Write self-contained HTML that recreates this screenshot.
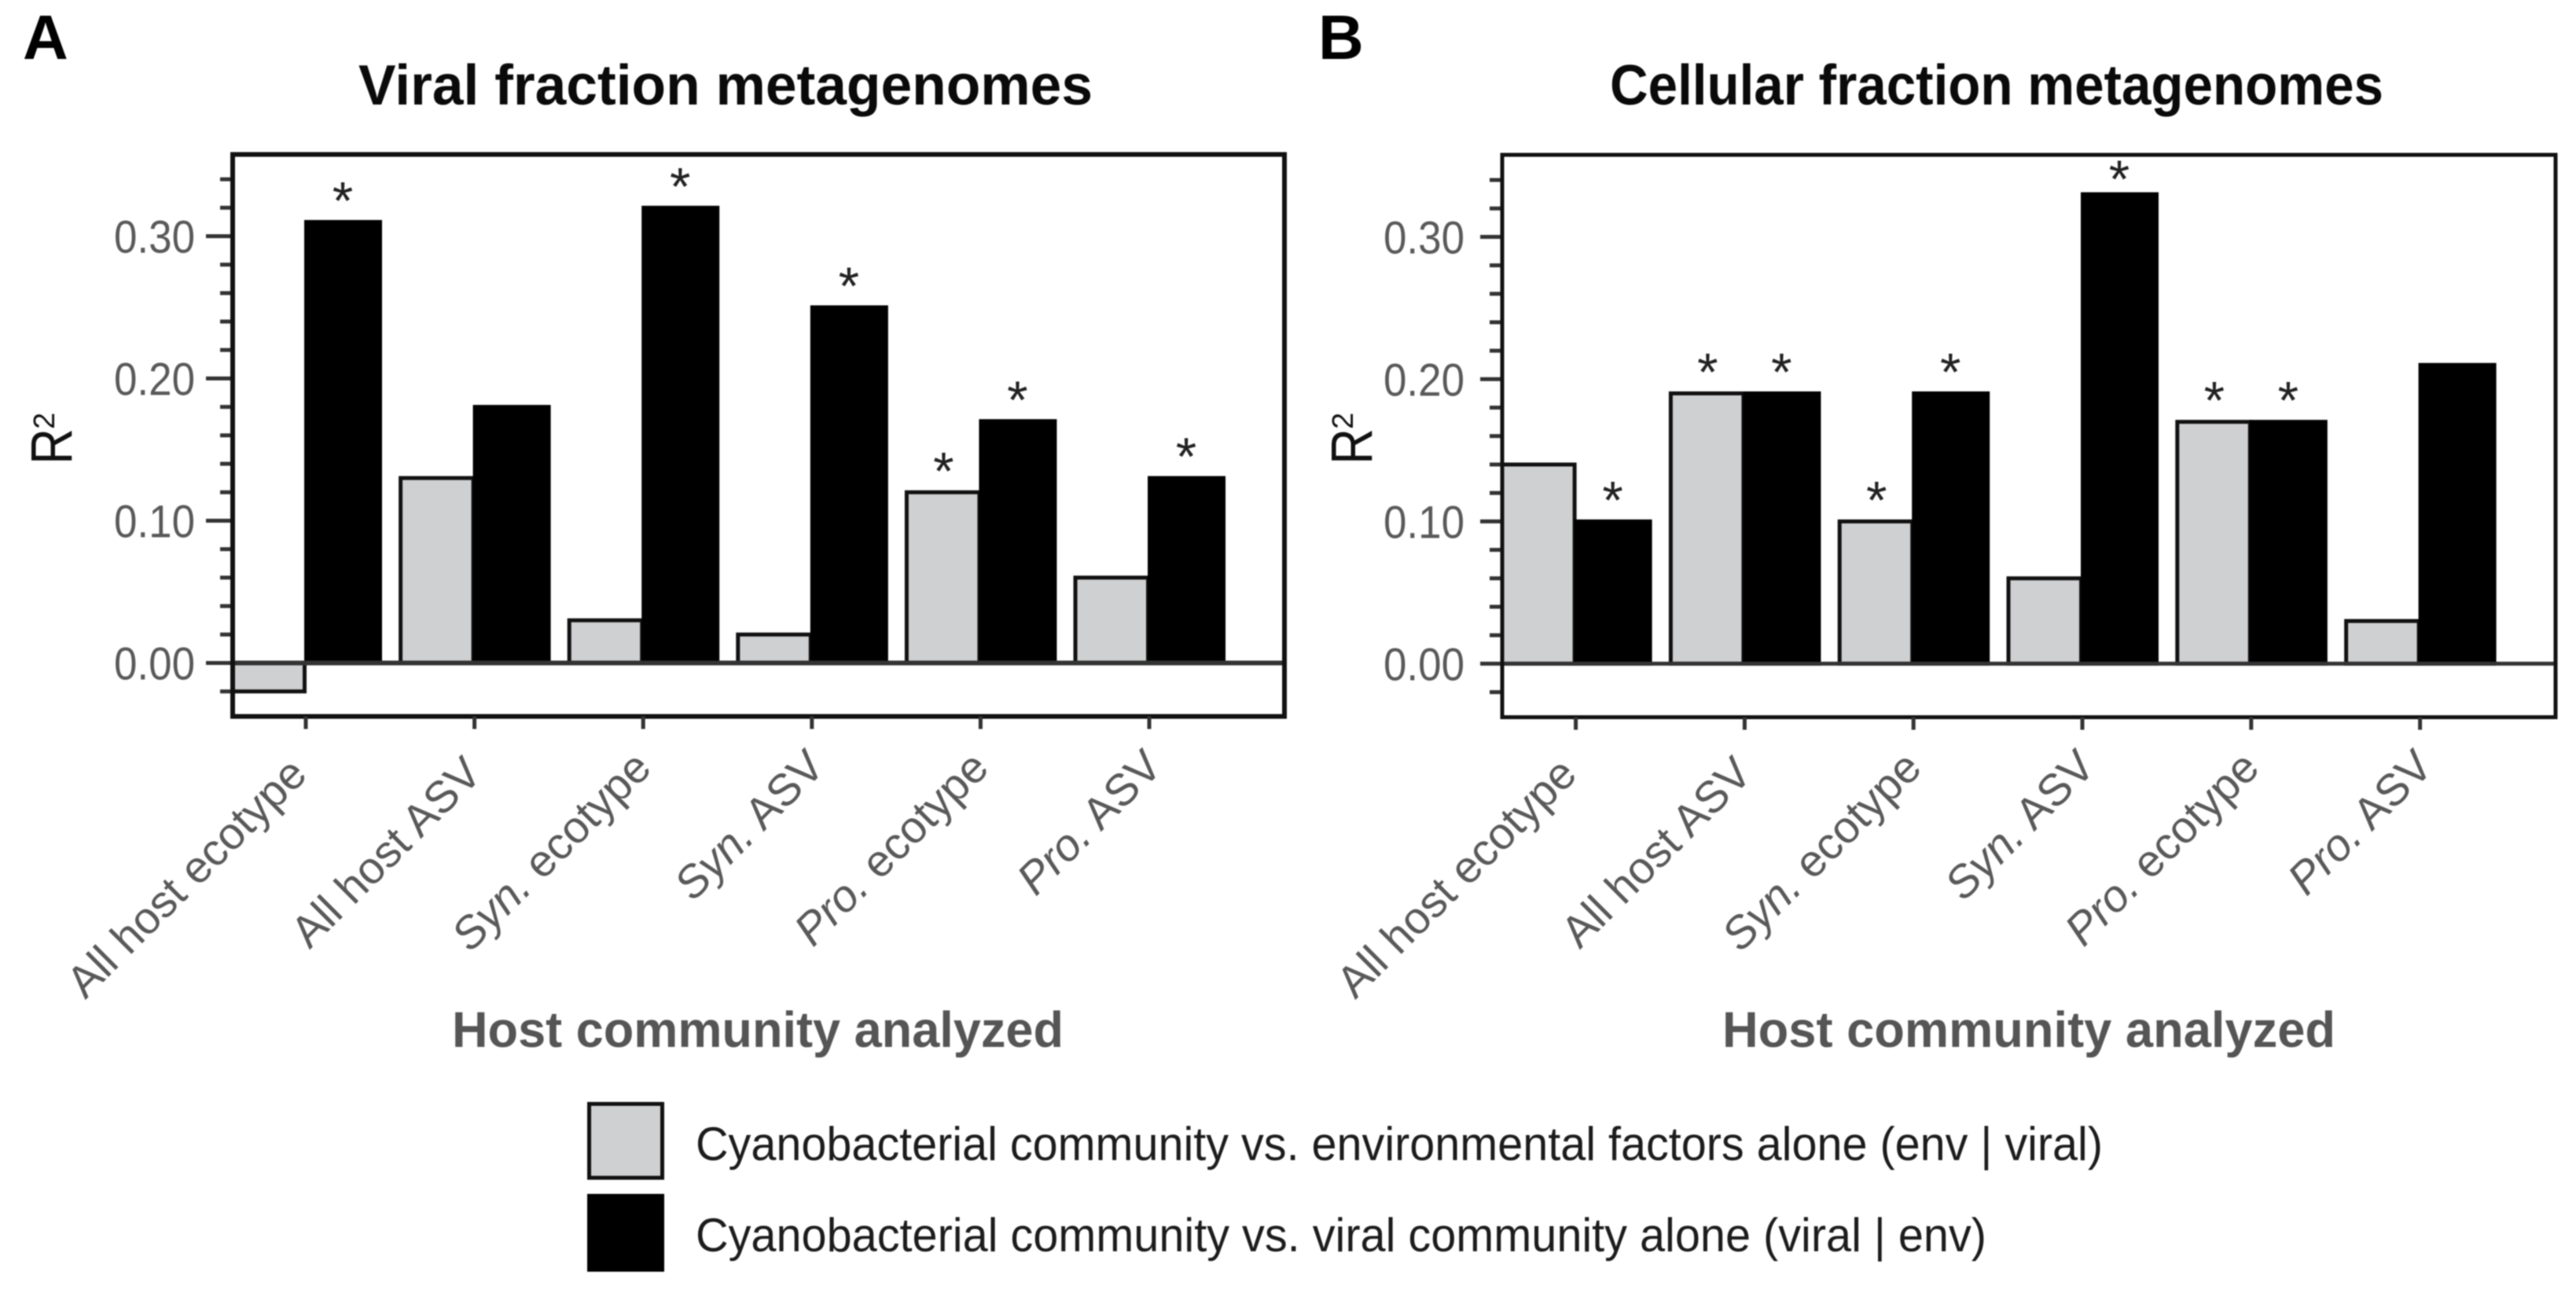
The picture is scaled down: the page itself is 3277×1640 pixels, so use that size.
<!DOCTYPE html>
<html lang="en">
<head>
<meta charset="utf-8">
<title>Viral and cellular fraction metagenomes</title>
<style>
html,body{margin:0;padding:0;background:#fff;}
body{width:3277px;height:1640px;overflow:hidden;}
svg{display:block;filter:blur(0.9px);font-family:"Liberation Sans",sans-serif;}
</style>
</head>
<body>
<svg id="chart" xmlns="http://www.w3.org/2000/svg" width="3277" height="1640" viewBox="0 0 3277 1640">
  <rect x="0" y="0" width="3277" height="1640" fill="#fff"/>
  <text x="29" y="75" font-size="80" font-weight="700" fill="#000">A</text>
  <text x="1677" y="75" font-size="80" font-weight="700" fill="#000">B</text>
  <text x="456" y="133" font-size="72" font-weight="700" fill="#0a0a0a" textLength="934" lengthAdjust="spacingAndGlyphs">Viral fraction metagenomes</text>
  <text x="2048" y="133" font-size="72" font-weight="700" fill="#0a0a0a" textLength="984" lengthAdjust="spacingAndGlyphs">Cellular fraction metagenomes</text>
  <text x="575" y="1332" font-size="64" font-weight="700" fill="#555" textLength="778" lengthAdjust="spacingAndGlyphs">Host community analyzed</text>
  <text x="2191" y="1332" font-size="64" font-weight="700" fill="#555" textLength="780" lengthAdjust="spacingAndGlyphs">Host community analyzed</text>
  <text transform="translate(91,591) rotate(-90)" font-size="74" fill="#111" textLength="46" lengthAdjust="spacingAndGlyphs">R</text>
  <text transform="translate(69,546) rotate(-90)" font-size="38" fill="#111">2</text>
  <text transform="translate(1745,591) rotate(-90)" font-size="74" fill="#111" textLength="46" lengthAdjust="spacingAndGlyphs">R</text>
  <text transform="translate(1721,546) rotate(-90)" font-size="38" fill="#111">2</text>
  <g>
    <rect x="749.5" y="1404.5" width="93" height="94" fill="#cfd0d2" stroke="#111" stroke-width="5"/>
    <text x="885" y="1476" font-size="60" fill="#1c1c1c" textLength="1790" lengthAdjust="spacingAndGlyphs">Cyanobacterial community vs. environmental factors alone (env | viral)</text>
    <rect x="749.5" y="1521.5" width="93" height="94" fill="#000" stroke="#000" stroke-width="5"/>
    <text x="885" y="1592" font-size="60" fill="#1c1c1c" textLength="1642" lengthAdjust="spacingAndGlyphs">Cyanobacterial community vs. viral community alone (viral | env)</text>
  </g>
  <g id="panels"></g>
</svg>
<script>
const categories = ['All host ecotype', 'All host ASV', 'Syn. ecotype', 'Syn. ASV', 'Pro. ecotype', 'Pro. ASV'];
const yTickLabels = ['0.00', '0.10', '0.20', '0.30'];
const yMinorTicks = [-0.02, 0.02, 0.04, 0.06, 0.08, 0.12, 0.14, 0.16, 0.18, 0.22, 0.24, 0.26, 0.28, 0.32, 0.34];

const viralEnv = [-0.02, 0.13, 0.03, 0.02, 0.12, 0.06];
const viralVirus = [0.31, 0.18, 0.32, 0.25, 0.17, 0.13];
const viralEnvSignificant = [false, false, false, false, true, false];
const viralVirusSignificant = [true, false, true, true, true, true];

const cellularEnv = [0.14, 0.19, 0.10, 0.06, 0.17, 0.03];
const cellularVirus = [0.10, 0.19, 0.19, 0.33, 0.17, 0.21];
const cellularEnvSignificant = [false, true, true, false, true, false];
const cellularVirusSignificant = [true, true, true, true, true, false];

const SVG_NS = 'http://www.w3.org/2000/svg';
const PX_PER_UNIT = 1810;
const STAR_MIN_BASELINE = 251;

function make(tag, attrs, parent) {
  const node = document.createElementNS(SVG_NS, tag);
  for (const key in attrs) node.setAttribute(key, attrs[key]);
  parent.appendChild(node);
  return node;
}

function labelNudge(category) {
  const italic = /^(Syn|Pro)\./.test(category);
  const asv = /ASV$/.test(category);
  if (italic) return asv ? { dx: 19, y: 978 } : { dx: 13, y: 980 };
  return asv ? { dx: 12, y: 987 } : { dx: 4, y: 988 };
}

function starBaseline(y) {
  return Math.max(y - 4, STAR_MIN_BASELINE);
}

function drawPanel(p) {
  const root = document.getElementById('panels');
  const g = make('g', {}, root);
  
  

  const yScale = v => p.zero - v * PX_PER_UNIT;
  const xScale = i => p.x0 + i * p.step;

  // environmental (grey) bars
  p.env.forEach((v, i) => {
    const c = xScale(i);
    const top = Math.min(yScale(v), p.zero);
    const h = Math.abs(yScale(v) - p.zero);
    const left = Math.max(c - 94, p.left);
    const bar = make('rect', { x: left, y: top, width: c - 1.5 - left, height: h, fill: '#cfd0d2', stroke: '#111', 'stroke-width': 5 }, g);
    
    
  });

  // viral (black) bars
  p.virus.forEach((v, i) => {
    const c = xScale(i);
    const bar = make('rect', { x: c + 0.5, y: yScale(v), width: 94, height: p.zero - yScale(v), fill: '#000', stroke: '#000', 'stroke-width': 5 }, g);
    
    
  });

  // significance stars
  p.envSig.forEach((sig, i) => {
    if (!sig) return;
    const star = make('text', { x: xScale(i) - 47, y: starBaseline(yScale(p.env[i])), 'font-size': 68, 'text-anchor': 'middle', fill: '#222' }, g);
    star.textContent = '*';
    
    
  });
  p.virusSig.forEach((sig, i) => {
    if (!sig) return;
    const star = make('text', { x: xScale(i) + 47, y: starBaseline(yScale(p.virus[i])), 'font-size': 68, 'text-anchor': 'middle', fill: '#222' }, g);
    star.textContent = '*';
    
    
  });

  // minor y ticks
  yMinorTicks.forEach(v => {
    const tick = make('line', { x1: p.left - 16, x2: p.left, y1: yScale(v), y2: yScale(v), stroke: '#333', 'stroke-width': 5 }, g);
    
    
  });

  // major y ticks and labels
  yTickLabels.forEach(label => {
    const v = parseFloat(label);
    const tick = make('line', { x1: p.left - p.majorLen, x2: p.left, y1: yScale(v), y2: yScale(v), stroke: '#333', 'stroke-width': 5 }, g);
    
    
    const text = make('text', { x: p.labelRight - 103, y: yScale(v) + 21, 'font-size': 58, fill: '#595959', textLength: 103, lengthAdjust: 'spacingAndGlyphs' }, g);
    text.textContent = label;
    
    
  });

  // zero line across the plot
  const zeroLine = make('line', { x1: p.left, x2: p.right, y1: p.zero, y2: p.zero, stroke: '#333', 'stroke-width': p.zeroWidth }, g);
  
  

  // frame
  const frame = make('rect', { x: p.left, y: p.top, width: p.right - p.left, height: p.bottom - p.top, fill: 'none', stroke: '#111', 'stroke-width': p.frameWidth }, g);
  
  

  // x ticks and rotated labels
  categories.forEach((category, i) => {
    const c = xScale(i);
    const tick = make('line', { x1: c, x2: c, y1: p.bottom, y2: p.bottom + 16, stroke: '#333', 'stroke-width': 5 }, g);
    
    

    const nudge = labelNudge(category);
    const text = make('text', {
      transform: 'translate(' + (c + nudge.dx) + ',' + nudge.y + ') rotate(-45)',
      'font-size': 57,
      'text-anchor': 'end',
      fill: '#595959'
    }, g);
    
    
    const match = category.match(/^(Syn\.|Pro\.)(.*)$/);
    if (match) {
      const em = make('tspan', { 'font-style': 'italic' }, text);
      em.textContent = match[1];
      const rest = make('tspan', {}, text);
      rest.textContent = match[2];
    } else {
      text.textContent = category;
    }
  });
}

drawPanel({
  id: 'viral', env: viralEnv, virus: viralVirus, envSig: viralEnvSignificant, virusSig: viralVirusSignificant,
  x0: 389, step: 214.6, zero: 843.5, left: 296, right: 1634, top: 196.5, bottom: 911.5,
  majorLen: 34, labelRight: 248, zeroWidth: 6, frameWidth: 6
});
drawPanel({
  id: 'cellular', env: cellularEnv, virus: cellularVirus, envSig: cellularEnvSignificant, virusSig: cellularVirusSignificant,
  x0: 2004.6, step: 214.8, zero: 844.4, left: 1911, right: 3251, top: 197, bottom: 912.5,
  majorLen: 28, labelRight: 1863, zeroWidth: 5, frameWidth: 5
});
</script>
</body>
</html>
